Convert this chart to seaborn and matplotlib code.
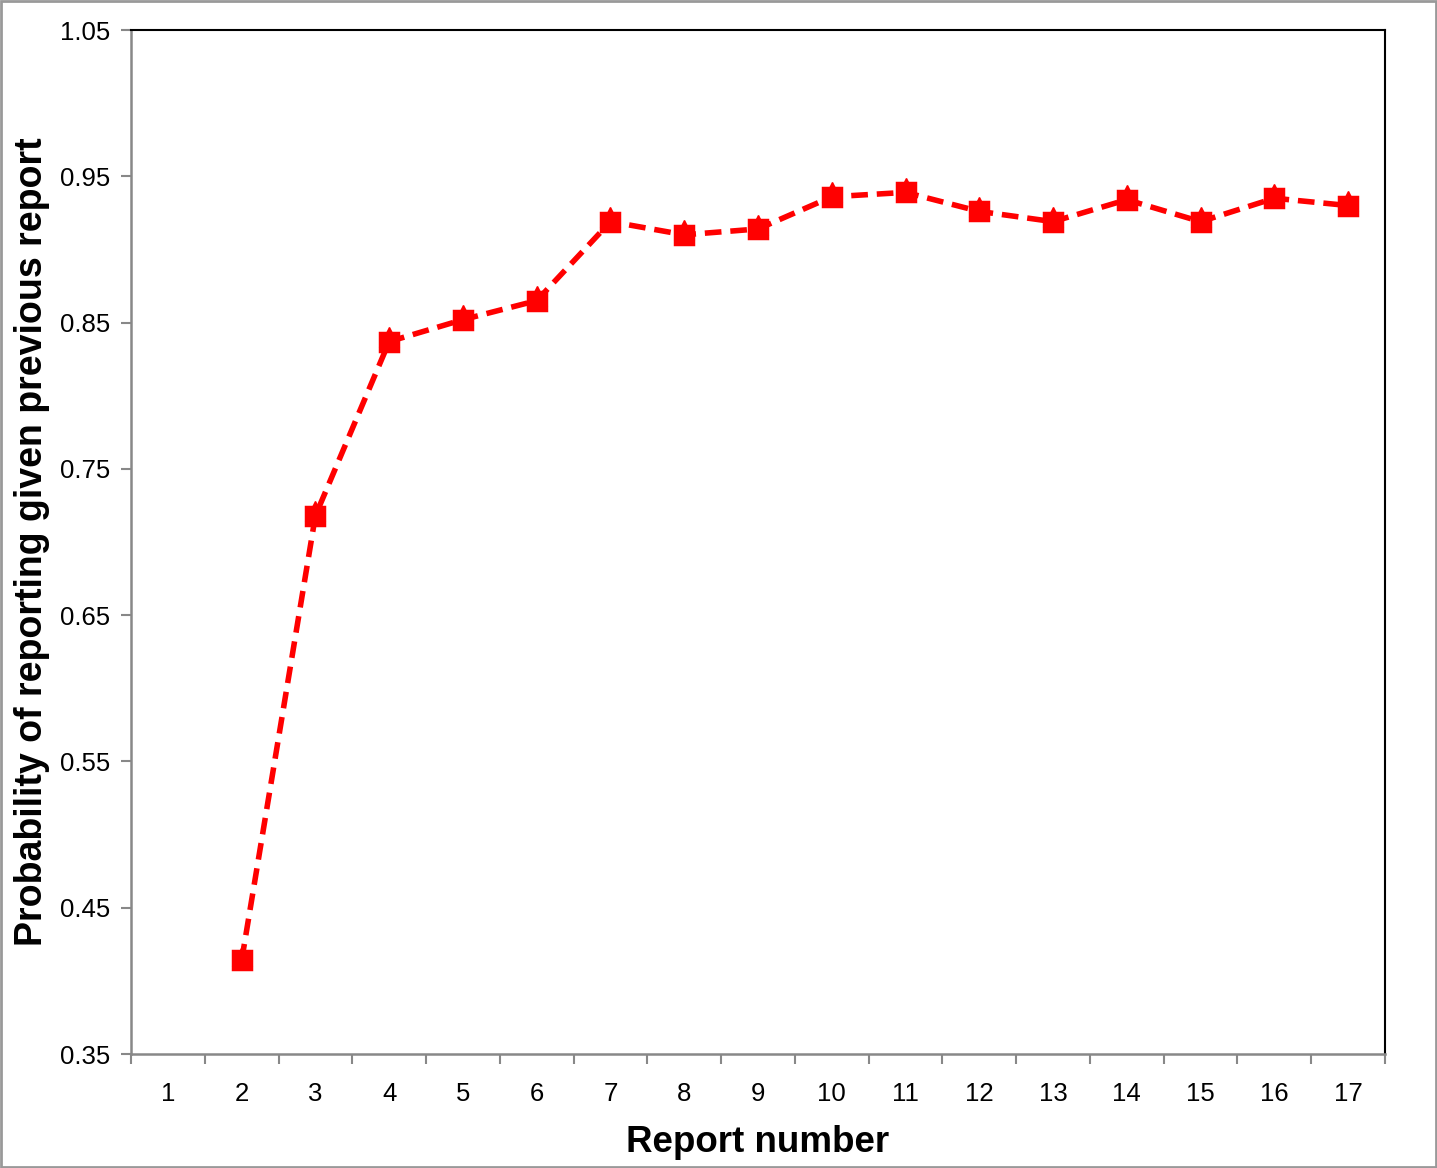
import numpy as np
import pandas as pd
import matplotlib
matplotlib.use('Agg')
import matplotlib.pyplot as plt
import seaborn as sns

sns.set_style('white')
plt.rcParams['font.family'] = ['Liberation Sans', 'DejaVu Sans']
plt.rcParams['text.color'] = 'black'
plt.rcParams['axes.labelcolor'] = 'black'
plt.rcParams['xtick.color'] = 'black'
plt.rcParams['ytick.color'] = 'black'

# values
report_number = list(range(2, 18))
probability = [0.414, 0.718, 0.837, 0.852, 0.865, 0.919, 0.910, 0.914,
               0.936, 0.939, 0.926, 0.919, 0.934, 0.919, 0.935, 0.930]
x_labels = [str(i) for i in range(1, 18)]
y_ticks = [0.35, 0.45, 0.55, 0.65, 0.75, 0.85, 0.95, 1.05]

df = pd.DataFrame({'report': report_number, 'prob': probability})

fig = plt.figure(figsize=(14.37, 11.68), dpi=100)
ax = fig.add_axes([131 / 1437, 1 - 1054 / 1168, (1385 - 131) / 1437, (1054 - 30) / 1168])

sns.lineplot(data=df, x='report', y='prob', ax=ax, color='#ff0000',
             linewidth=4, linestyle=(0, (3, 1.6)), marker='s', markersize=13,
             markeredgecolor='#ff0000', markeredgewidth=2.5)
ax.plot(df['report'], df['prob'] + 0.003, linestyle='none', marker='^', markersize=14,
        color='#ff0000')

ax.set_xlim(0.5, 17.5)
ax.set_ylim(0.35, 1.05)
ax.set_yticks(y_ticks)
ax.set_yticklabels([f'{v:.2f}' for v in y_ticks])
ax.set_xticks(range(1, 18))
ax.set_xticklabels(x_labels)
ax.set_xticks(np.arange(0.5, 18, 1), minor=True)
ax.tick_params(axis='x', which='major', length=0, labelsize=18.5, pad=20, colors='black')
ax.tick_params(axis='x', which='minor', length=7, width=1.5, color='#888888', direction='out')
ax.tick_params(axis='y', length=7, width=1.5, color='#888888', direction='out',
               labelsize=18.5, pad=8, labelcolor='black')
ax.tick_params(bottom=True, left=True, which='both')

for side in ['left', 'bottom']:
    ax.spines[side].set_color('#888888')
    ax.spines[side].set_linewidth(1.8)
for side in ['top', 'right']:
    ax.spines[side].set_color('black')
    ax.spines[side].set_linewidth(1.5)
    ax.spines[side].set_visible(True)

ax.set_xlabel('Report number', fontsize=26.5, fontweight='bold', labelpad=14, color='black')
ax.set_ylabel('Probability of reporting given previous report', fontsize=27,
              fontweight='bold', labelpad=7, color='black')

fig.patches.append(plt.Rectangle((0.001, 0.001), 0.998, 0.998, transform=fig.transFigure,
                                 fill=False, edgecolor='#999999', linewidth=2))

fig.savefig('out.png', dpi=100, facecolor='white')
